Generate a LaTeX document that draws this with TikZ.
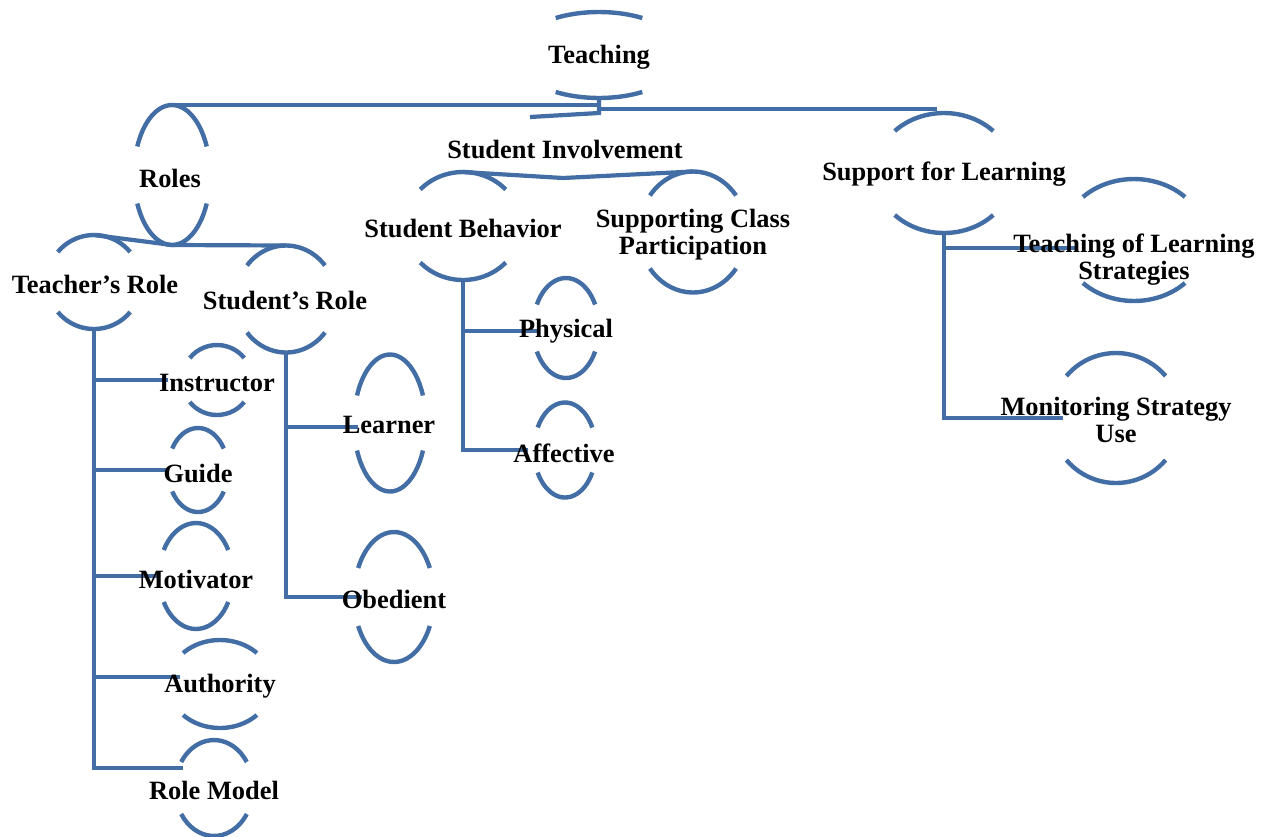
\documentclass[tikz,border=0pt]{standalone}
\usepackage{fontspec}
\setmainfont{Liberation Serif}
\usepackage{tikz,xcolor}
\usetikzlibrary{shapes.geometric}

\definecolor{linkblue}{RGB}{67,110,165}

% oval with only its top and bottom caps drawn
\newcommand{\ovalnode}[5]{%
  \node (#1)[oval, minimum width=#3pt, minimum height=#4pt] at (#2) {};
  \pgfmathsetmacro\capang{asin(#5/#4)}
  \draw[capline] (#2) ++({#3*cos(\capang)},{#4*sin(\capang)}) arc[start angle=\capang, end angle=180-\capang, x radius=#3, y radius=#4];
  \draw[capline] (#2) ++({-#3*cos(\capang)},{-#4*sin(\capang)}) arc[start angle=180+\capang, end angle=360-\capang, x radius=#3, y radius=#4];
}

\begin{document}
\begin{tikzpicture}[x=0.5pt,y=-0.5pt,
  oval/.style={shape=ellipse, inner sep=0pt, outer sep=0pt},
  capline/.style={draw=linkblue, line width=2.2pt},
  link/.style={draw=linkblue, line width=2.1pt},
  lbl/.style={font=\fontsize{13.2}{13.6}\selectfont\bfseries, align=center, inner sep=0pt, yshift=-1pt},]
	\useasboundingbox (0,0) rectangle (1270,836);
	\clip (0,0) rectangle (1270,836);

	% create the ovals
	\ovalnode{teach-o}{599,55}{85}{43}{37}
	\ovalnode{roles-o}{172,175}{38}{70}{28.5}
	\ovalnode{trole-o}{94,282}{47}{47}{30}
	\ovalnode{srole-o}{286,299}{50}{53.5}{33.5}
	\ovalnode{sbeh-o}{463,226}{58}{54}{36.5}
	\ovalnode{scp-o}{693,232}{54}{60.5}{36.5}
	\ovalnode{supp-o}{944,173}{69}{60}{42}
	\ovalnode{tls-o}{1134,240}{72}{61}{43}
	\ovalnode{msu-o}{1116,418}{65}{65}{42}
	\ovalnode{instr-o}{217,380}{35}{35}{22}
	\ovalnode{guide-o}{198,470}{30}{42}{21.5}
	\ovalnode{motiv-o}{196,576}{37}{53}{26}
	\ovalnode{auth-o}{220,684}{52}{44}{31}
	\ovalnode{rmod-o}{214,788}{39}{48}{26}
	\ovalnode{learn-o}{390,423}{36}{68.5}{27.5}
	\ovalnode{obed-o}{394,597}{40}{65}{29}
	\ovalnode{phys-o}{566,328}{33}{50}{23.5}
	\ovalnode{affect-o}{565,450}{31}{47.5}{22.5}
	\coordinate (sinv-in) at (530,117);
	\coordinate (sinv-out) at (563,178);

	% connect the ovals
	\draw[link] (teach-o.south) |- (roles-o.north);
	\draw[link] (teach-o.south) |- ([xshift=-3.5pt,yshift=2pt]supp-o.north);
	\draw[link] (teach-o.south) -- ++(0,15) -- (sinv-in);
	\draw[link] (sbeh-o.north) -- (sinv-out) -- (scp-o.north);
	\draw[link] (roles-o.south) -- (trole-o.north);
	\draw[link] (roles-o.south) -- (srole-o.north);
	\draw[link] (trole-o.south) |- ([xshift=-7pt]instr-o.west);
	\draw[link] (trole-o.south) |- (guide-o.west);
	\draw[link] (trole-o.south) |- (motiv-o.west);
	\draw[link] (trole-o.south) |- ([xshift=6pt,yshift=3.5pt]auth-o.west);
	\draw[link] (trole-o.south) |- ([xshift=4pt,yshift=10pt]rmod-o.west);
	\draw[link] (srole-o.south) |- ([xshift=2pt,yshift=-2pt]learn-o.west);
	\draw[link] (srole-o.south) |- ([xshift=4pt]obed-o.west);
	\draw[link] (sbeh-o.south) |- ([xshift=2pt,yshift=-1.5pt]phys-o.west);
	\draw[link] (sbeh-o.south) |- ([xshift=-3pt]affect-o.west);
	\draw[link] (supp-o.south) |- ([xshift=8pt,yshift=-4pt]tls-o.west);
	\draw[link] (supp-o.south) |- ([xshift=6pt]msu-o.west);

	% the labels
	\node (teach)[lbl] at (599,55) {Teaching};
	\node (roles)[lbl] at (170,176) {Roles};
	\node (trole)[lbl] at (95,282) {Teacher’s Role};
	\node (srole)[lbl] at (285,298) {Student’s Role};
	\node (sinv)[lbl] at (565,147) {Student Involvement};
	\node (sbeh)[lbl] at (463,226) {Student Behavior};
	\node (scp)[lbl] at (693,233) {Supporting Class\\Participation};
	\node (supp)[lbl] at (944,172) {Support for Learning};
	\node (tls)[lbl] at (1134,258) {Teaching of Learning\\Strategies};
	\node (msu)[lbl] at (1116,418) {Monitoring Strategy\\Use};
	\node (instr)[lbl] at (217,381) {Instructor};
	\node (guide)[lbl] at (198,471) {Guide};
	\node (motiv)[lbl] at (196,577) {Motivator};
	\node (auth)[lbl] at (220,684) {Authority};
	\node (rmod)[lbl] at (214,788) {Role Model};
	\node (learn)[lbl] at (389,423) {Learner};
	\node (obed)[lbl] at (394,597) {Obedient};
	\node (phys)[lbl] at (566,329) {Physical};
	\node (affect)[lbl] at (564,451) {Affective};

\end{tikzpicture}
\end{document}
